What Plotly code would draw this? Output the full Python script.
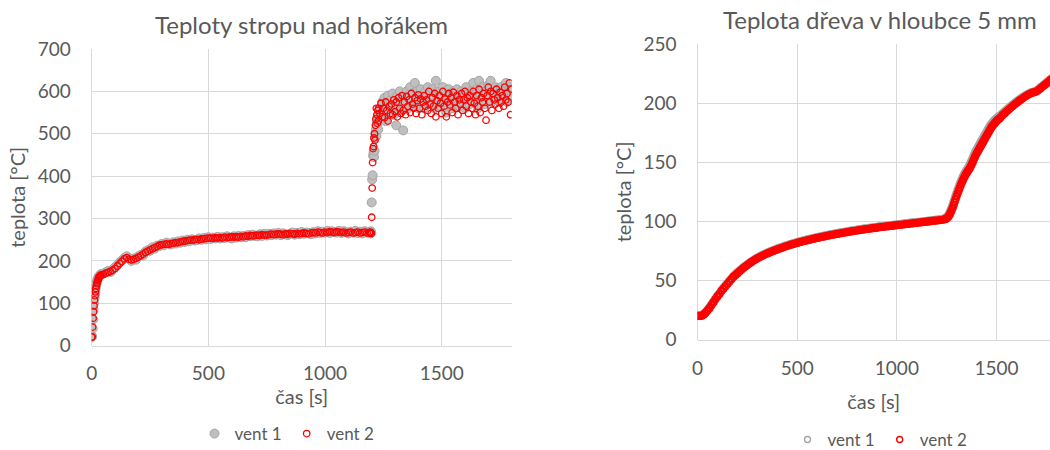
import plotly.graph_objects as go

# --- Ceiling temperature above the burner (left panel) ---
T_CEIL = (list(range(0, 42, 2)) + list(range(50, 1191, 10))
          + list(range(1192, 1231, 2)) + list(range(1235, 1801, 5)))

CEIL_VENT1 = [
    21, 22, 40, 62, 85, 100, 112, 122, 131, 139, 145, 150, 154, 157, 160, 162, 164, 165, 167, 168, 169,
    170, 173, 176, 174, 180, 185, 190, 197, 201, 207,
    211, 206, 200, 206, 203, 211, 214, 213, 222, 225,
    224, 232, 229, 236, 235, 240, 237, 243, 241, 239,
    244, 241, 246, 243, 248, 245, 250, 247, 251, 248,
    249, 253, 250, 254, 251, 256, 252, 255, 253, 257,
    253, 256, 254, 258, 255, 253, 258, 255, 259, 256,
    259, 256, 261, 258, 262, 259, 258, 263, 259, 264,
    260, 264, 261, 265, 262, 266, 261, 265, 263, 261,
    264, 267, 262, 266, 263, 268, 264, 267, 266, 263,
    268, 265, 270, 266, 269, 267, 271, 266, 270, 268,
    267, 271, 266, 270, 268, 265, 269, 267, 271, 266,
    269, 265, 270, 267, 268,
    268, 265, 270, 267, 338, 392, 402, 448, 455, 445, 460, 490, 500, 510, 495, 530, 520, 540, 510, 545,
    560, 540, 575, 552, 585, 530, 570, 590, 548, 578,
    560, 595, 545, 580, 520, 590, 565, 600, 575, 555,
    508, 590, 570, 600, 560, 585, 610, 575, 595, 565,
    620, 580, 600, 560, 592, 605, 575, 590, 560, 600,
    585, 610, 570, 595, 575, 605, 590, 560, 625, 600,
    580, 600, 565, 590, 610, 575, 595, 550, 585, 605,
    575, 595, 560, 600, 585, 570, 605, 580, 565, 590,
    600, 575, 590, 560, 610, 585, 595, 570, 600, 580,
    620, 590, 575, 605, 560, 625, 595, 580, 610, 590,
    570, 600, 585, 615, 590, 625, 575, 600, 590, 610,
    580, 605, 595, 575, 610, 590, 600, 585, 620, 575,
    600, 585, 610, 590,
]

CEIL_VENT2 = [
    20, 21, 44, 65, 80, 94, 108, 118, 127, 135, 141, 146, 150, 154, 157, 160, 162, 164, 165, 166, 167,
    168, 171, 173, 175, 178, 182, 188, 194, 199, 205,
    208, 204, 202, 204, 206, 209, 212, 216, 220, 223,
    226, 229, 231, 234, 237, 238, 239, 240, 239, 241,
    242, 243, 243, 245, 246, 247, 248, 249, 249, 250,
    251, 250, 252, 252, 253, 254, 254, 253, 255, 254,
    255, 254, 256, 255, 256, 257, 256, 257, 256, 258,
    257, 259, 258, 260, 259, 260, 261, 260, 262, 261,
    261, 262, 263, 262, 263, 264, 263, 262, 264, 263,
    265, 264, 263, 265, 264, 265, 266, 265, 264, 266,
    267, 266, 268, 267, 266, 268, 267, 269, 268, 267,
    269, 268, 267, 268, 266, 267, 268, 266, 267, 268,
    266, 267, 268, 266, 267,
    266, 268, 267, 265, 303, 372, 432, 465, 470, 490, 500, 485, 520, 535, 560, 545, 525, 555, 530, 560,
    548, 572, 540, 560, 538, 575, 555, 530, 565, 548,
    570, 545, 580, 552, 575, 540, 585, 560, 548, 590,
    555, 575, 545, 588, 565, 580, 550, 595, 570, 560,
    585, 548, 578, 592, 560, 582, 545, 575, 590, 565,
    580, 555, 600, 570, 548, 585, 565, 595, 540, 578,
    560, 590, 572, 548, 600, 565, 582, 540, 575, 595,
    568, 585, 550, 598, 575, 560, 590, 545, 580, 570,
    595, 555, 580, 600, 565, 585, 548, 590, 575, 560,
    600, 572, 545, 590, 565, 605, 550, 585, 575, 595,
    560, 532, 590, 610, 575, 600, 555, 595, 580, 570,
    605, 585, 560, 598, 575, 590, 565, 610, 580, 595,
    575, 620, 545, 605,
]

# --- Wood temperature 5 mm below the surface (right panel) ---
T_WOOD = list(range(0, 1250, 10)) + list(range(1245, 1525, 5)) + list(range(1530, 1810, 10))

WOOD_VENT2 = [
    20, 20, 20, 21, 22.5, 24.5, 26.5, 29, 31.5, 34,
    36.5, 38.5, 41, 43, 45, 47, 49, 51, 53, 54.5,
    56, 57.5, 59, 60.5, 61.8, 63, 64.3, 65.5, 66.6, 67.7,
    68.7, 69.6, 70.5, 71.3, 72.1, 72.9, 73.6, 74.3, 75, 75.6,
    76.3, 76.9, 77.5, 78.1, 78.7, 79.2, 79.8, 80.3, 80.8, 81.3,
    81.8, 82.3, 82.7, 83.2, 83.6, 84.0, 84.4, 84.8, 85.2, 85.6,
    86.0, 86.4, 86.7, 87.1, 87.4, 87.8, 88.1, 88.5, 88.8, 89.1,
    89.4, 89.7, 90.0, 90.3, 90.6, 90.9, 91.2, 91.5, 91.8, 92.0,
    92.3, 92.6, 92.8, 93.1, 93.3, 93.6, 93.8, 94.1, 94.3, 94.5,
    94.7, 95.0, 95.2, 95.4, 95.6, 95.8, 96.0, 96.2, 96.4, 96.6,
    96.8, 97.0, 97.2, 97.4, 97.6, 97.8, 98.0, 98.2, 98.4, 98.6,
    98.8, 99.0, 99.2, 99.4, 99.6, 99.8, 100.0, 100.2, 100.4, 100.6,
    100.8, 101.0, 101.2, 101.4, 101.8,
    102.1, 102.6, 103.3, 104.3, 105.7, 107.5, 109.4, 111.5, 114, 116.5,
    119, 121.5, 123.8, 126, 128.3, 130.5, 132.5, 134.5, 136.3, 138,
    139.6, 141, 142.3, 143.5, 144.8, 146.5, 148.2, 150, 152, 154,
    155.8, 157.5, 159, 160.5, 162, 163.5, 165, 166.5, 168, 169.5,
    171, 172.5, 174, 175.5, 177, 178.5, 179.8, 181, 182, 183,
    184, 185, 185.8, 186.5, 187.2, 188,
    190, 191.5, 193, 194.5, 196, 197.5, 199, 200.3, 201.6, 202.9,
    204.1, 205.3, 206.4, 207.4, 208.3, 209, 209.5, 210, 211.2, 212.6,
    214, 215.4, 216.8, 218.2, 219.6, 221, 222.4, 223.8,
]

WOOD_VENT1 = [
    20.3, 20.2, 20.4, 21.4, 23, 25, 27.1, 29.6, 32, 34.6,
    37, 39.1, 41.5, 43.6, 45.6, 47.5, 49.6, 51.5, 53.5, 55,
    56.5, 58, 59.4, 61, 62.2, 63.4, 64.7, 65.9, 67, 68.1,
    69.1, 70, 70.9, 71.7, 72.5, 73.3, 74, 74.7, 75.4, 76,
    76.7, 77.3, 77.9, 78.5, 79.1, 79.6, 80.2, 80.7, 81.2, 81.7,
    82.2, 82.7, 83.1, 83.6, 84.0, 84.4, 84.8, 85.2, 85.6, 86.0,
    86.4, 86.8, 87.1, 87.5, 87.8, 88.2, 88.5, 88.9, 89.2, 89.5,
    89.8, 90.1, 90.4, 90.7, 91.0, 91.3, 91.6, 91.9, 92.2, 92.4,
    92.7, 93.0, 93.2, 93.5, 93.7, 94.0, 94.2, 94.5, 94.7, 94.9,
    95.1, 95.4, 95.6, 95.8, 96.0, 96.2, 96.4, 96.6, 96.8, 97.0,
    97.2, 97.4, 97.6, 97.8, 98.0, 98.2, 98.4, 98.6, 98.8, 99.0,
    99.2, 99.4, 99.6, 99.8, 100.0, 100.2, 100.4, 100.6, 100.8, 101.0,
    101.2, 101.4, 101.6, 101.9, 102.4,
    102.8, 103.5, 104.4, 105.6, 107.3, 109.3, 111.4, 113.6, 116.2, 118.8,
    121.4, 123.9, 126.2, 128.5, 130.8, 133, 135, 137, 138.8, 140.5,
    142, 143.4, 144.7, 146, 147.6, 149.4, 151.2, 153.2, 155.3, 157.2,
    159, 160.6, 162.1, 163.6, 165.1, 166.6, 168.1, 169.6, 171.1, 172.6,
    174.1, 175.6, 177.1, 178.6, 180, 181.4, 182.6, 183.6, 184.6, 185.5,
    186.3, 187, 187.7, 188.4, 189.1, 189.8,
    191.5, 193, 194.4, 195.8, 197.2, 198.6, 200, 201.3, 202.6, 203.8,
    205, 206.1, 207.1, 208, 208.8, 209.4, 209.9, 210.5, 211.8, 213.2,
    214.6, 216, 217.4, 218.8, 220.2, 221.6, 223, 224.4,
]

W, H = 1050, 450
FONT = "Lato, 'Open Sans', sans-serif"
TXT = "#595959"
GRID = "#D9D9D9"
GRAY_FILL = "#BFBFBF"
GRAY_EDGE = "#A5A5A5"
RED = "#FF0000"


def px_x(p):
    return p / W


def px_y(p):
    return (H - p) / H


fig = go.Figure()

fig.add_trace(go.Scatter(
    x=T_CEIL, y=CEIL_VENT1, mode="markers", name="vent 1",
    marker=dict(symbol="circle", size=9, color=GRAY_FILL,
                line=dict(color=GRAY_EDGE, width=1)),
    xaxis="x", yaxis="y", legend="legend"))
fig.add_trace(go.Scatter(
    x=T_CEIL, y=CEIL_VENT2, mode="markers", name="vent 2",
    marker=dict(symbol="circle-open", size=6.5, color=RED, line=dict(width=1.3)),
    xaxis="x", yaxis="y", legend="legend"))

# Dense rings form a solid band; the key uses thin rings
fig.add_trace(go.Scatter(
    x=T_WOOD, y=WOOD_VENT1, mode="markers", name="vent 1", showlegend=False,
    marker=dict(symbol="circle-open", size=7, color=GRAY_EDGE, line=dict(width=2)),
    xaxis="x2", yaxis="y2"))
fig.add_trace(go.Scatter(
    x=T_WOOD, y=WOOD_VENT2, mode="markers", name="vent 2", showlegend=False,
    marker=dict(symbol="circle-open", size=6, color=RED, line=dict(width=2.2)),
    xaxis="x2", yaxis="y2"))
for name, color in (("vent 1", GRAY_EDGE), ("vent 2", RED)):
    fig.add_trace(go.Scatter(
        x=[None], y=[None], mode="markers", name=name,
        marker=dict(symbol="circle-open", size=6, color=color, line=dict(width=1.4)),
        xaxis="x2", yaxis="y2", legend="legend2"))

tick_font = dict(family=FONT, size=19, color=TXT)
title_font = dict(family=FONT, size=20, color=TXT)
common_axis = dict(showgrid=True, gridcolor=GRID, gridwidth=1.2,
                   zeroline=True, zerolinecolor=GRID, zerolinewidth=1.2,
                   tickfont=tick_font, ticks="", fixedrange=True, automargin=False)

fig.update_layout(
    width=W, height=H,
    margin=dict(l=0, r=0, t=0, b=0, autoexpand=False),
    paper_bgcolor="white", plot_bgcolor="white",
    font=dict(family=FONT, color=TXT),
    xaxis=dict(domain=[px_x(91.7), px_x(511.7)], range=[0, 1800], dtick=500,
               anchor="y", showline=True, linecolor=GRID, linewidth=1.2,
               ticklabelstandoff=10,
               title=dict(text="čas [s]", font=title_font, standoff=7),
               **common_axis),
    yaxis=dict(domain=[px_y(345.7), px_y(49)], range=[0, 700], dtick=100,
               anchor="x", ticklabelstandoff=20,
               title=dict(text="teplota [°C]", font=title_font, standoff=6),
               **common_axis),
    xaxis2=dict(domain=[px_x(697.5), 1.0], range=[0, 1768], dtick=500,
                anchor="y2", showline=True, linecolor=GRID, linewidth=1.2,
                ticklabelstandoff=12,
                title=dict(text="čas [s]", font=title_font, standoff=16),
                **common_axis),
    yaxis2=dict(domain=[px_y(339.5), px_y(44.3)], range=[0, 250], dtick=50,
                anchor="x2", ticklabelstandoff=20,
                title=dict(text="teplota [°C]", font=title_font, standoff=6),
                **common_axis),
    legend=dict(orientation="h", x=px_x(287), y=px_y(434), xanchor="center",
                yanchor="middle", font=dict(family=FONT, size=17, color=TXT),
                bgcolor="rgba(0,0,0,0)"),
    legend2=dict(orientation="h", x=px_x(880), y=px_y(440), xanchor="center",
                 yanchor="middle", font=dict(family=FONT, size=17, color=TXT),
                 bgcolor="rgba(0,0,0,0)"),
    annotations=[
        dict(text="Teploty stropu nad hořákem", x=px_x(301.7), y=px_y(24),
             xref="paper", yref="paper", xanchor="center", yanchor="middle",
             showarrow=False, font=dict(family=FONT, size=24, color=TXT)),
        dict(text="Teplota dřeva v hloubce 5 mm", x=px_x(880), y=px_y(20),
             xref="paper", yref="paper", xanchor="center", yanchor="middle",
             showarrow=False, font=dict(family=FONT, size=24, color=TXT)),
    ],
    showlegend=True,
)

fig.write_html("out.html")
